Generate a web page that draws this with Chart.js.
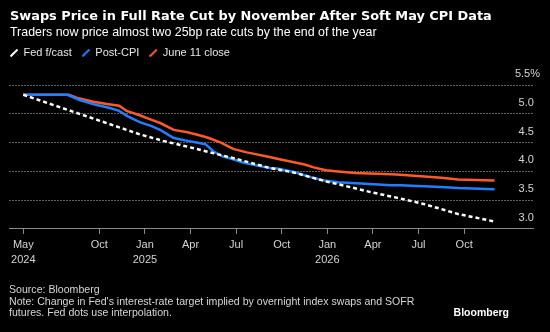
<!DOCTYPE html>
<html><head><meta charset="utf-8">
<script src="https://cdn.jsdelivr.net/npm/chart.js@4"></script>
<style>
html,body{margin:0;padding:0;background:#000;}
#wrap{position:relative;width:550px;height:332px;background:#000;overflow:hidden;font-family:'Liberation Sans',Arial,sans-serif;}
#c{position:absolute;left:0;top:0;}
.t{position:absolute;white-space:nowrap;color:#fff;z-index:2;}
#title{left:10px;top:8.3px;font:bold 12.9px 'DejaVu Sans';}
#sub{left:10px;top:25.2px;font:12.4px 'Liberation Sans';}
#foot{left:9px;top:284.3px;font:10.58px/11.5px 'Liberation Sans';color:#d6d6d6;}
#logo{right:41px;top:306px;font:bold 10.5px 'Liberation Sans';}
</style></head>
<body>
<div id="wrap">
<canvas id="c" width="550" height="332"></canvas>
<div class="t" id="title">Swaps Price in Full Rate Cut by November After Soft May CPI Data</div>
<div class="t" id="sub">Traders now price almost two 25bp rate cuts by the end of the year</div>
<div class="t" id="foot">Source: Bloomberg<br>Note: Change in Fed's interest-rate target implied by overnight index swaps and SOFR<br>futures. Fed dots use interpolation.</div>
<div class="t" id="logo">Bloomberg</div>
</div>
<script>
// x values are months since May 2024
const fedMonths  = [0, 7.7, 9.2, 11.4, 12.75, 14.1, 16.2, 17.8, 18.9, 20.0, 21.3, 22.85, 24.8, 26.4, 28.6, 31.0];
const fedValues  = [5.33, 4.64, 4.53, 4.39, 4.30, 4.21, 4.06, 3.98, 3.90, 3.82, 3.74, 3.64, 3.53, 3.43, 3.26, 3.13];

const postMonths = [0, 2.9, 3.7, 4.7, 5.7, 6.3, 6.9, 7.7, 8.4, 9.0, 9.9, 10.8, 11.4, 12.0, 12.5, 13.1, 13.8, 14.5, 15.4, 16.2, 16.7, 17.8, 18.9, 19.8, 20.7, 22.2, 24.2, 24.8, 27.5, 28.6, 31.0];
const postValues = [5.33, 5.33, 5.24, 5.16, 5.10, 5.05, 4.95, 4.85, 4.79, 4.72, 4.58, 4.53, 4.50, 4.47, 4.35, 4.26, 4.21, 4.15, 4.10, 4.06, 4.05, 3.99, 3.90, 3.84, 3.81, 3.79, 3.76, 3.76, 3.73, 3.71, 3.69];

const juneMonths = [0, 3.0, 3.5, 4.6, 5.5, 6.3, 6.8, 7.7, 8.4, 9.0, 9.9, 10.8, 11.7, 12.2, 13.0, 13.8, 14.7, 16.2, 16.7, 17.8, 18.5, 19.1, 19.9, 20.7, 21.8, 24.2, 24.8, 27.5, 28.6, 31.0];
const juneValues = [5.33, 5.33, 5.28, 5.21, 5.17, 5.14, 5.05, 4.97, 4.90, 4.84, 4.72, 4.68, 4.62, 4.58, 4.50, 4.39, 4.33, 4.25, 4.22, 4.16, 4.12, 4.07, 4.02, 4.00, 3.97, 3.95, 3.94, 3.89, 3.86, 3.84];

const tickMonths = [0, 5, 8, 11, 14, 17, 20, 23, 26, 29];
const tickLabels = [['May','2024'], 'Oct', ['Jan','2025'], 'Apr', 'Jul', 'Oct', ['Jan','2026'], 'Apr', 'Jul', 'Oct'];
const yTickValues = [3.0, 3.5, 4.0, 4.5, 5.0, 5.5];
const yTickLabels = ['3.0  ', '3.5  ', '4.0  ', '4.5  ', '5.0  ', '5.5%'];

function slash(color){
  const c = document.createElement('canvas'); c.width = 8; c.height = 8;
  const g = c.getContext('2d'); g.strokeStyle = color; g.lineWidth = 2;
  g.beginPath(); g.moveTo(0.5, 7.5); g.lineTo(7.5, 0.5); g.stroke();
  return c;
}
const pts = (xs, ys) => xs.map((m, i) => ({x: m, y: ys[i]}));

Chart.defaults.font.family = "'Liberation Sans', Arial, sans-serif";

new Chart(document.getElementById('c'), {
  type: 'line',
  data: { datasets: [
    {label: 'Fed f/cast', data: pts(fedMonths, fedValues), borderColor: '#ffffff', borderWidth: 2.5, borderDash: [4, 3], pointRadius: 0, pointStyle: slash('#ffffff'), xAxisID: 'x', yAxisID: 'y'},
    {label: 'Post-CPI', data: pts(postMonths, postValues), borderColor: '#1f7fff', borderWidth: 2.5, pointRadius: 0, pointStyle: slash('#1f7fff'), xAxisID: 'x', yAxisID: 'y'},
    {label: 'June 11 close', data: pts(juneMonths, juneValues), borderColor: '#ff5a26', borderWidth: 2.5, pointRadius: 0, pointStyle: slash('#ff5a26'), xAxisID: 'x', yAxisID: 'y'}
  ]},
  options: {
    responsive: false, animation: false, devicePixelRatio: 1,
    layout: {padding: {top: 37.5, left: 0, right: 3, bottom: 60.1}},
    plugins: {
      legend: {display: true, position: 'top', align: 'start',
        labels: {usePointStyle: true, pointStyleWidth: 8, boxHeight: 8, padding: 10, color: '#e6e6e6', font: {size: 11}}},
      tooltip: {enabled: false}
    },
    scales: {
      x: {type: 'linear', position: 'bottom', min: -0.94, max: 33.53,
        afterBuildTicks: s => { s.ticks = tickMonths.map(v => ({value: v})); },
        ticks: {autoSkip: false, maxRotation: 0, minRotation: 0, padding: 4, color: '#d4d4d4', font: {size: 11, lineHeight: 1.36},
          callback: v => tickLabels[tickMonths.indexOf(v)]},
        grid: {drawOnChartArea: false, drawTicks: true, tickLength: 5, color: '#8a8a8a'},
        border: {display: true, color: '#8a8a8a', width: 1}},
      y: {type: 'linear', position: 'right', min: 3, max: 5.5,
        afterBuildTicks: s => { s.ticks = yTickValues.map(v => ({value: v})); },
        ticks: {mirror: true, padding: 7, labelOffset: -11, color: '#d4d4d4', font: {size: 11},
          callback: v => yTickLabels[yTickValues.indexOf(v)]},
        grid: {drawTicks: false, color: '#626262', lineWidth: 1},
        border: {display: false, dash: [2, 1]}},
      yl: {type: 'linear', position: 'left', display: true, grid: {display: false, drawTicks: false}, border: {display: false}, ticks: {display: false},
        afterFit: s => { s.width = 9; }},
      xt: {type: 'linear', position: 'top', display: true, grid: {display: false, drawTicks: false}, border: {display: false}, ticks: {display: false},
        afterFit: s => { s.height = 16.5; }}
    }
  }
});
</script>
</body></html>
